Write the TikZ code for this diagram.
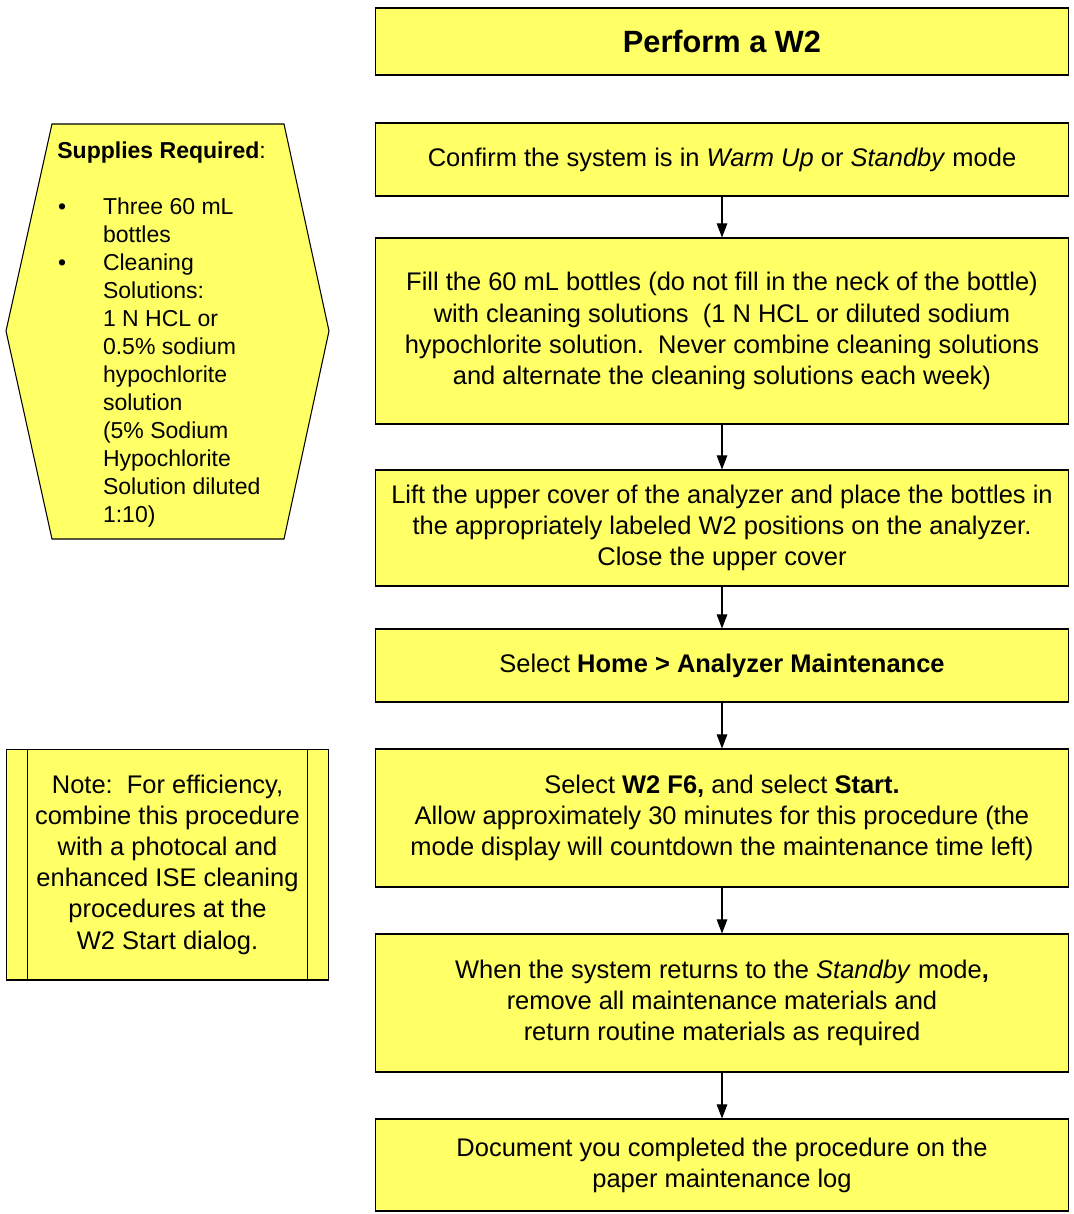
\documentclass[tikz,border=0pt]{standalone}
\usepackage{fontspec}
\setmainfont{Liberation Sans}
\usetikzlibrary{arrows.meta}
\definecolor{boxyellow}{HTML}{FFFF66}
\newcommand{\bul}{\makebox[26pt][l]{\hspace{0.5pt}•}}
\newcommand{\ind}{\hspace*{26pt}}
\begin{document}
\begin{tikzpicture}[x=0.02cm,y=-0.02cm,
  stepbox/.style={draw=black, line width=0.6pt, fill=boxyellow, minimum width=13.88cm, align=center, inner sep=0pt, font=\fontsize{14.5pt}{17.75pt}\selectfont},
  arr/.style={draw=black, line width=0.6pt, -{Triangle[length=8pt,width=6pt]}},
  shapeline/.style={draw=black, line width=0.6pt, fill=boxyellow}]
\useasboundingbox (0,0) rectangle (1073,1214);
% right column
\node[stepbox, minimum height=1.34cm, font=\fontsize{17.5pt}{21pt}\selectfont\bfseries] (title) at (722,41.5) {Perform a W2};
\node[stepbox, minimum height=1.46cm] (b1) at (722,159.5) {Confirm the system is in \textit{Warm Up} or \textit{Standby} mode};
\node[stepbox, minimum height=3.72cm] (b2) at (722,331) {Fill the 60 mL bottles (do not fill in the neck of the bottle)\\with cleaning solutions\ \ (1 N HCL or diluted sodium\\hypochlorite solution.\ \ Never combine cleaning solutions\\and alternate the cleaning solutions each week)};
\node[stepbox, minimum height=2.32cm] (b3) at (722,528) {Lift the upper cover of the analyzer and place the bottles in\\the appropriately labeled W2 positions on the analyzer.\\Close the upper cover};
\node[stepbox, minimum height=1.46cm] (b4) at (722,665.5) {Select \textbf{Home > Analyzer Maintenance}};
\node[stepbox, minimum height=2.76cm] (b5) at (722,818) {Select \textbf{W2 F6,} and select \textbf{Start.}\\Allow approximately 30 minutes for this procedure (the\\mode display will countdown the maintenance time left)};
\node[stepbox, minimum height=2.76cm] (b6) at (722,1003) {When the system returns to the \textit{Standby} mode\textbf{,}\\remove all maintenance materials and\\return routine materials as required};
\node[stepbox, minimum height=1.84cm] (b7) at (722,1165) {Document you completed the procedure on the\\paper maintenance log};
\draw[arr] (b1) -- (b2);
\draw[arr] (b2) -- (b3);
\draw[arr] (b3) -- (b4);
\draw[arr] (b4) -- (b5);
\draw[arr] (b5) -- (b6);
\draw[arr] (b6) -- (b7);
% supplies hexagon
\draw[shapeline] (52,124) -- (284,124) -- (329,331) -- (284,539) -- (52,539) -- (6,331) -- cycle;
\node[anchor=north west, align=left, inner sep=0pt, font=\fontsize{13.1pt}{15.95pt}\selectfont] (supplies) at (57,141) {\textbf{Supplies Required}:\\[15.95pt]
\bul Three 60 mL\\
\ind bottles\\
\bul Cleaning\\
\ind Solutions:\\
\ind 1 N HCL or\\
\ind 0.5\% sodium\\
\ind hypochlorite\\
\ind solution\\
\ind (5\% Sodium\\
\ind Hypochlorite\\
\ind Solution diluted\\
\ind 1:10)};
% note box
\node[shapeline, minimum width=6.46cm, minimum height=4.62cm, inner sep=0pt, align=center, font=\fontsize{14.5pt}{17.75pt}\selectfont] (note) at (167.5,864.5) {Note:\ \ For efficiency,\\combine this procedure\\with a photocal and\\enhanced ISE cleaning\\procedures at the\\W2 Start dialog.};
\draw[line width=0.6pt] ([xshift=0.44cm]note.north west) -- ([xshift=0.44cm]note.south west);
\draw[line width=0.6pt] ([xshift=-0.44cm]note.north east) -- ([xshift=-0.44cm]note.south east);
\end{tikzpicture}
\end{document}
